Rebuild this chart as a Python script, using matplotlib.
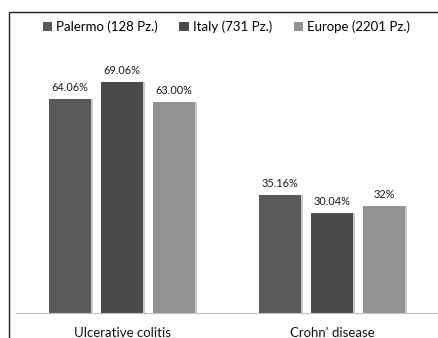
import numpy as np
import matplotlib.pyplot as plt
from matplotlib.patches import Rectangle

categories = ['Ulcerative colitis', "Crohn' disease"]
series = ['Palermo (128 Pz.)', 'Italy (731 Pz.)', 'Europe (2201 Pz.)']
palermo = [64.06, 35.16]
italy = [69.06, 30.04]
europe = [63.00, 32.0]
labels = [['64.06%', '35.16%'], ['69.06%', '30.04%'], ['63.00%', '32%']]
colors = ['#595959', '#4a4a4a', '#929292']

plt.rcParams['font.family'] = ['Lato', 'DejaVu Sans']

fig = plt.figure(figsize=(4.38, 3.38), dpi=100)
ax = fig.add_axes([16/438, 25/338, 421/438, 301/338])

x = np.arange(len(categories))
w = 0.2
off = 0.248
for i, vals in enumerate([palermo, italy, europe]):
    pos = x + (i-1)*off
    # faint shadow
    ax.bar(pos+0.01, vals, w, color='#c8c8c8', zorder=1)
    ax.bar(pos, vals, w, color=colors[i], label=series[i], zorder=2)
    for p, v, t in zip(pos, vals, labels[i]):
        ax.text(p, v+1.8, t, ha='center', va='bottom', fontsize=7.8, color='#1a1a1a')

ax.set_xlim(-0.505, 1.5)
ax.set_ylim(0, 90)
ax.set_yticks([])
ax.set_xticks(x)
ax.set_xticklabels(categories, fontsize=9.5, color='#111111')
ax.tick_params(axis='x', length=0, pad=10)
for s in ['top', 'right', 'left']:
    ax.spines[s].set_visible(False)
ax.spines['bottom'].set_color('#c0c0c0')

leg = ax.legend(loc='center', bbox_to_anchor=(0.5, 1 - 15/301), ncol=3, frameon=False,
                fontsize=9.5, handlelength=0.7, handleheight=0.7, handletextpad=0.35,
                columnspacing=1.6)

frame = Rectangle((9/438, -0.1), 1.1, (338-12)/338 + 0.1, transform=fig.transFigure,
                  fill=False, edgecolor='#222222', linewidth=1.0)
fig.patches.append(frame)

fig.savefig('out.png', dpi=100)
